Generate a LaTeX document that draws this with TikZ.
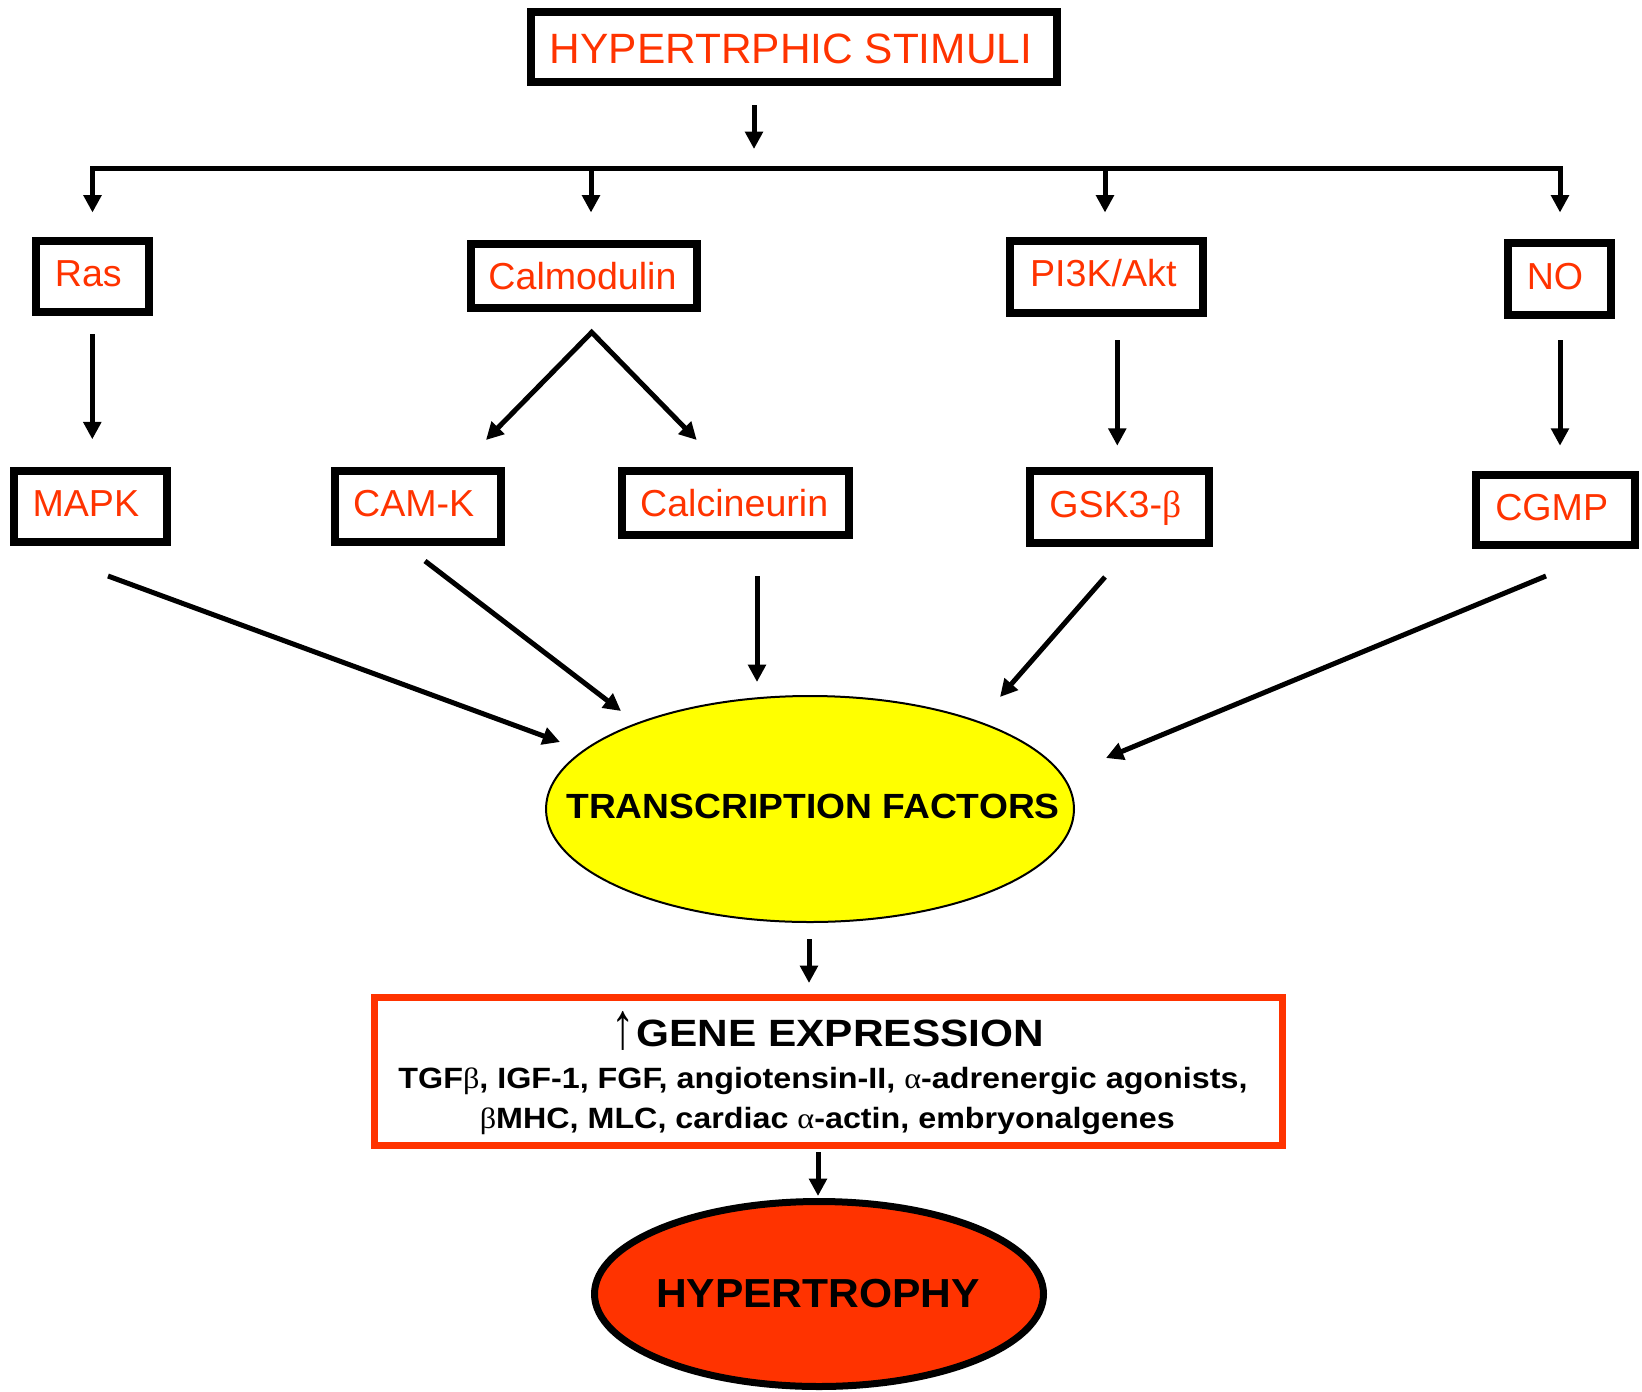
\documentclass[tikz,border=0pt]{standalone}
\usepackage{fontspec}
\usepackage{graphicx}
\setmainfont{Liberation Sans}
\newfontfamily\grk{Liberation Serif}
\usetikzlibrary{arrows.meta,shapes.geometric}
\definecolor{hred}{RGB}{255,51,0}
\definecolor{hyellow}{RGB}{255,255,0}
\begin{document}
\begin{tikzpicture}[x=0.75pt,y=-0.75pt,
  box/.style={draw=black,line width=6pt,inner sep=0pt},
  lbl/.style={anchor=base,inner sep=0pt,text=hred,font=\fontsize{28.2}{34}\selectfont},
  arr/.style={line width=3.75pt,-{Triangle[length=13pt,width=13pt]}},
  darr/.style={line width=3.75pt,{Triangle[length=13pt,width=13pt]}-{Triangle[length=13pt,width=13pt]},line join=miter},
  btxt/.style={anchor=base,inner sep=0pt,font=\fontsize{22}{26}\selectfont\bfseries},
]
\useasboundingbox[fill=white] (0,0) rectangle (1642,1392);

% top box
\node[box,minimum width=394.5pt,minimum height=52.5pt] (stim) at (794,47) {};
\node[lbl,font=\fontsize{31.8}{38}\selectfont] (stimT) at (791,63.6) {HYPERTRPHIC STIMULI};

% second row
\node[box,minimum width=84.3pt,minimum height=53.5pt] (ras) at (92.5,276.3) {};
\node[lbl] (rasT) at (88.3,286.7) {Ras};
\node[box,minimum width=170pt,minimum height=48.2pt] (calm) at (584,276.2) {};
\node[lbl] (calmT) at (582.5,289) {Calmodulin};
\node[box,minimum width=144.5pt,minimum height=54pt] (pi3k) at (1106.3,276.7) {};
\node[lbl] (pi3kT) at (1103.3,286.5) {PI3K/Akt};
\node[box,minimum width=77.25pt,minimum height=54pt] (no) at (1559,279.3) {};
\node[lbl] (noT) at (1555,289.3) {NO};

% third row
\node[box,minimum width=114.5pt,minimum height=53.5pt] (mapk) at (90.3,506.3) {};
\node[lbl] (mapkT) at (85.8,516.7) {MAPK};
\node[box,minimum width=124.7pt,minimum height=53.5pt] (camk) at (417.8,506.3) {};
\node[lbl] (camkT) at (413.7,516.7) {CAM-K};
\node[box,minimum width=170.25pt,minimum height=48.2pt] (calc) at (735.2,502.8) {};
\node[lbl] (calcT) at (734.2,516) {Calcineurin};
\node[box,minimum width=134.25pt,minimum height=54pt] (gsk) at (1119.2,506.7) {};
\node[lbl] (gskT) at (1115.3,517.7) {GSK3-{\grk β}};
\node[box,minimum width=119pt,minimum height=53pt] (cgmp) at (1555.7,510) {};
\node[lbl] (cgmpT) at (1551.7,520.7) {CGMP};

% transcription factors
\node[ellipse,draw=black,line width=1.5pt,fill=hyellow,inner sep=0pt,minimum width=396pt,minimum height=169.5pt] (tf) at (810,809) {};
\node[anchor=base,inner sep=0pt,font=\fontsize{26.25}{31}\selectfont\bfseries] (tfT) at (813,818) {\scalebox{1.063}[1]{TRANSCRIPTION FACTORS}};

% gene expression box
\node[draw=hred,line width=5.25pt,inner sep=0pt,minimum width=681pt,minimum height=111pt] (gene) at (828.5,1071.5) {};
\node[inner sep=0pt,font=\fontsize{40}{40}\grk\mdseries] (up) at (623.3,1030.5) {\resizebox*{17.5pt}{29.25pt}{↑}};
\node[btxt,font=\fontsize{28.5}{34}\selectfont\bfseries] (g1) at (840.3,1046.3) {\scalebox{1.115}[1]{GENE EXPRESSION}};
\node[btxt] (g2) at (823,1088) {\scalebox{1.1}[1]{TGF{\grk\mdseries β}, IGF-1, FGF, angiotensin-II, {\grk\mdseries α}-adrenergic agonists,}};
\node[btxt] (g3) at (827.3,1128) {\scalebox{1.1}[1]{{\grk\mdseries β}MHC, MLC, cardiac {\grk\mdseries α}-actin, embryonalgenes}};

% hypertrophy
\node[ellipse,draw=black,line width=5.25pt,fill=hred,inner sep=0pt,minimum width=336.75pt,minimum height=138.75pt] (hyp) at (819,1294) {};
\node[anchor=base,inner sep=0pt,font=\fontsize{30.4}{36}\selectfont\bfseries] (hypT) at (818,1307.3) {\scalebox{1.05}[1]{HYPERTROPHY}};

% connector coordinates
\coordinate (stimA) at (754,105);
\coordinate (stimB) at (754,149);
\coordinate (busL) at (92.5,212.5);
\coordinate (busR) at (1560,168);
\coordinate (busRend) at (1560,212.5);
\coordinate (busC) at (591,168);
\coordinate (busCend) at (591,212.5);
\coordinate (busP) at (1105,168);
\coordinate (busPend) at (1105,212.5);
\coordinate (rasA) at (92.3,334);
\coordinate (rasB) at (92.3,439.3);
\coordinate (calmApex) at (591.7,332.3);
\coordinate (camkTip) at (486,440);
\coordinate (calcTip) at (696.7,440);
\coordinate (pi3kA) at (1117.3,340);
\coordinate (pi3kB) at (1117.3,445.7);
\coordinate (noA) at (1560,340);
\coordinate (noB) at (1560,445.7);
\coordinate (mapkA) at (108,576);
\coordinate (mapkB) at (560,742);
\coordinate (camkA) at (425,561);
\coordinate (camkB) at (621,711);
\coordinate (calcA) at (757,576);
\coordinate (calcB) at (757,682);
\coordinate (gskA) at (1105,577);
\coordinate (gskB) at (1000,697);
\coordinate (cgmpA) at (1546,576);
\coordinate (cgmpB) at (1106,758);
\coordinate (tfA) at (809,939);
\coordinate (tfB) at (809,983);
\coordinate (geneA) at (818,1152);
\coordinate (geneB) at (818,1196);

\draw[arr] (stimA) -- (stimB);
\draw[darr] (busL) |- (busR) -- (busRend);
\draw[arr] (busC) -- (busCend);
\draw[arr] (busP) -- (busPend);
\draw[arr] (rasA) -- (rasB);
\draw[darr] (camkTip) -- (calmApex) -- (calcTip);
\draw[arr] (pi3kA) -- (pi3kB);
\draw[arr] (noA) -- (noB);
\draw[arr] (mapkA) -- (mapkB);
\draw[arr] (camkA) -- (camkB);
\draw[arr] (calcA) -- (calcB);
\draw[arr] (gskA) -- (gskB);
\draw[arr] (cgmpA) -- (cgmpB);
\draw[arr] (tfA) -- (tfB);
\draw[arr] (geneA) -- (geneB);
\end{tikzpicture}
\end{document}
